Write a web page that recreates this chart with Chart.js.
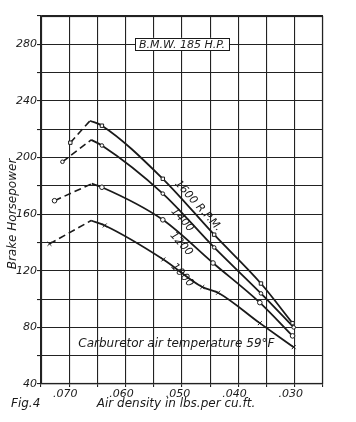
<!DOCTYPE html>
<html><head><meta charset="utf-8">
<script src="https://cdn.jsdelivr.net/npm/chart.js@4/dist/chart.umd.min.js"></script>
<style>html,body{margin:0;padding:0;background:#fff;}canvas{display:block;}</style>
</head><body>
<canvas id="c" width="356" height="422"></canvas>
<script>
// Data (air density in lbs/cu.ft, brake horsepower)
const rpmLabels = ['1600 R.P.M.', '1400', '1200', '1000'];
const density1600 = [0.0698, 0.0663, 0.0642, 0.0534, 0.0443, 0.0360, 0.0304];
const hp1600      = [210.5, 226.0, 222.5, 185.0, 145.5, 111.0, 83.0];
const density1400 = [0.0712, 0.0661, 0.0642, 0.0534, 0.0443, 0.0360, 0.0302];
const hp1400      = [197.0, 212.5, 208.5, 174.5, 136.5, 104.0, 80.0];
const density1200 = [0.0726, 0.0660, 0.0642, 0.0534, 0.0445, 0.0362, 0.0304];
const hp1200      = [169.5, 181.5, 179.0, 156.0, 125.5, 97.5, 74.0];
const density1000 = [0.0735, 0.0661, 0.0637, 0.0533, 0.0464, 0.0436, 0.0362, 0.0302];
const hp1000      = [139.0, 155.5, 152.0, 128.0, 108.5, 104.5, 83.0, 66.0];
const xTickLabels = ['.070', '.060', '.050', '.040', '.030'];
const yTickLabels = ['40', '80', '120', '160', '200', '240', '280'];

const series = [
  {name: rpmLabels[0], xs: density1600, ys: hp1600, style: 'rect', r: 2.4},
  {name: rpmLabels[1], xs: density1400, ys: hp1400, style: 'circle', r: 1.8},
  {name: rpmLabels[2], xs: density1200, ys: hp1200, style: 'circle', r: 2.3},
  {name: rpmLabels[3], xs: density1000, ys: hp1000, style: 'crossRot', r: 2.8}
];
const ink = '#1a1a1a';
const FONT = "'DejaVu Sans', sans-serif";

const datasets = [];
series.forEach(s => {
  const pts = s.xs.map((x, i) => ({x: x, y: s.ys[i]}));
  // dashed extrapolation from first reading to the peak
  datasets.push({
    label: s.name + ' ext', data: pts.slice(0, 2), borderColor: ink, borderWidth: 1.6,
    borderDash: [7, 4], pointStyle: s.style, pointRadius: [s.r, 0],
    pointBackgroundColor: '#fff', pointBorderColor: ink, pointBorderWidth: 1, tension: 0
  });
  const solid = pts.slice(1);
  datasets.push({
    label: s.name, data: solid, borderColor: ink, borderWidth: 1.8,
    pointStyle: s.style, pointRadius: solid.map((p, i) => i === 0 ? 0 : s.r),
    pointBackgroundColor: '#fff', pointBorderColor: ink, pointBorderWidth: 1,
    cubicInterpolationMode: 'monotone'
  });
});

const annot = {
  id: 'annot',
  beforeDatasetsDraw(chart) {
    const {ctx, chartArea: a} = chart;
    ctx.save();
    ctx.strokeStyle = '#222'; ctx.lineWidth = 1.2;
    ctx.strokeRect(Math.round(a.left) + 0.5, Math.round(a.top) + 0.5,
      Math.round(a.right - a.left) - 1, Math.round(a.bottom - a.top) - 1);
    ctx.restore();
  },
  afterDraw(chart) {
    const {ctx, scales: {x, y}} = chart;
    ctx.save();
    ctx.fillStyle = ink; ctx.strokeStyle = ink;
    // title box
    ctx.font = 'italic 11px ' + FONT;
    const t = 'B.M.W. 185 H.P.';
    const bx = x.getPixelForValue(0.0500), by = y.getPixelForValue(280);
    const w = ctx.measureText(t).width + 8;
    ctx.fillStyle = '#fff';
    ctx.fillRect(bx - w / 2, by - 6.5, w, 13);
    ctx.lineWidth = 1;
    ctx.strokeRect(Math.round(bx - w / 2) + 0.5, Math.round(by - 6.5) + 0.5, Math.round(w), 12);
    ctx.fillStyle = ink;
    ctx.textAlign = 'center'; ctx.textBaseline = 'middle';
    ctx.fillText(t, bx, by + 0.5);
    // curve labels (placed just above-right of each curve)
    const lab = [[0.0475, 164.5], [0.0503, 154.5], [0.0505, 137.5], [0.0503, 115.5]];
    lab.forEach((p, i) => {
      ctx.save();
      ctx.translate(x.getPixelForValue(p[0]) + 2, y.getPixelForValue(p[1]) - 2);
      ctx.rotate(48 * Math.PI / 180);
      ctx.font = 'italic 11px ' + FONT;
      ctx.fillText(rpmLabels[i], 0, 0);
      ctx.restore();
    });
    // note
    ctx.font = 'italic 12px ' + FONT;
    ctx.fillText('Carburetor air temperature 59°F', x.getPixelForValue(0.0510), y.getPixelForValue(68.3));
    // axis titles
    ctx.fillText('Air density in lbs.per cu.ft.', 176, 404);
    ctx.textAlign = 'left';
    ctx.fillText('Fig.4', 11, 404);
    ctx.save();
    ctx.translate(13, 214);
    ctx.rotate(-Math.PI / 2);
    ctx.textAlign = 'center';
    ctx.fillText('Brake Horsepower', 0, 0);
    ctx.restore();
    ctx.restore();
  }
};

new Chart(document.getElementById('c'), {
  type: 'line',
  data: {datasets},
  options: {
    responsive: false, animation: false, devicePixelRatio: 1,
    layout: {padding: {left: 0, top: 16, right: 33, bottom: 0}},
    plugins: {legend: {display: false}, tooltip: {enabled: false}},
    scales: {
      x: {
        type: 'linear', reverse: true, min: 0.025, max: 0.075,
        afterFit: s => { s.height = 38; },
        grid: {color: '#222', lineWidth: 1.1, tickLength: 3},
        border: {color: '#222', width: 1.2},
        ticks: {
          stepSize: 0.005, autoSkip: false, maxRotation: 0, padding: 1, color: ink,
          labelOffset: -4,
          font: {family: FONT, size: 11, style: 'italic'},
          callback: v => {
            const lbl = '.' + String(Math.round(v * 1000)).padStart(3, '0');
            return xTickLabels.includes(lbl) && Math.abs(v * 1000 - Math.round(v * 1000)) < 1e-6 ? lbl : '';
          }
        }
      },
      y: {
        type: 'linear', min: 40, max: 300,
        afterFit: s => { s.width = 41; },
        grid: {color: '#222', lineWidth: 1.1, tickLength: 4},
        border: {color: '#222', width: 1.2},
        ticks: {
          stepSize: 20, autoSkip: false, padding: 0, color: ink,
          font: {family: FONT, size: 11, style: 'italic'},
          callback: v => yTickLabels.includes(String(v)) ? String(v) : ''
        }
      }
    }
  },
  plugins: [annot]
});
</script>
</body></html>
